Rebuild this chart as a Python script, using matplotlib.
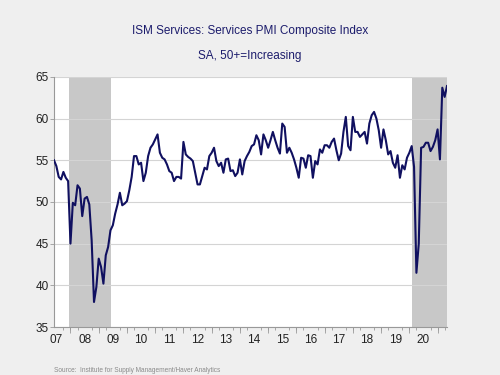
import numpy as np
import matplotlib
matplotlib.use("Agg")
import matplotlib.pyplot as plt

plt.rcParams['font.family'] = ['Liberation Sans', 'DejaVu Sans']

# ISM Services PMI, monthly, Jun 2007 .. May 2021
start_year, start_month = 2007, 6
pmi_2007 = [55.0, 54.3, 53.0, 52.7, 53.6, 52.9, 52.5]
pmi_2008 = [45.0, 49.9, 49.6, 52.0, 51.6, 48.3, 50.4, 50.6, 49.7, 45.4, 38.0, 39.8]
pmi_2009 = [43.2, 42.2, 40.2, 43.6, 44.6, 46.6, 47.2, 48.6, 49.7, 51.1, 49.6, 49.8]
pmi_2010 = [50.1, 51.4, 53.0, 55.5, 55.5, 54.5, 54.7, 52.5, 53.5, 55.5, 56.5, 56.9]
pmi_2011 = [57.5, 58.1, 55.9, 55.3, 55.1, 54.5, 53.7, 53.5, 52.5, 53.0, 53.0, 52.8]
pmi_2012 = [57.2, 55.7, 55.4, 55.2, 54.9, 53.5, 52.1, 52.1, 53.1, 54.1, 53.9, 55.5]
pmi_2013 = [55.9, 56.5, 54.9, 54.3, 54.7, 53.5, 55.1, 55.2, 53.7, 53.8, 53.1, 53.5]
pmi_2014 = [55.1, 53.3, 54.9, 55.5, 56.0, 56.7, 56.9, 58.0, 57.4, 55.7, 58.1, 57.4]
pmi_2015 = [56.5, 57.4, 58.4, 57.4, 56.5, 55.8, 59.4, 59.0, 55.9, 56.5, 55.9, 55.1]
pmi_2016 = [54.1, 52.9, 55.3, 55.2, 54.1, 55.6, 55.5, 52.9, 54.9, 54.5, 56.3, 55.9]
pmi_2017 = [56.8, 56.8, 56.5, 57.2, 57.6, 56.2, 55.0, 55.8, 58.4, 60.2, 56.7, 56.2]
pmi_2018 = [60.2, 58.4, 58.4, 57.8, 58.1, 58.4, 57.0, 59.4, 60.4, 60.8, 60.0, 58.6]
pmi_2019 = [56.5, 58.7, 57.4, 55.7, 56.1, 54.7, 54.1, 55.6, 52.9, 54.4, 53.9, 55.3]
pmi_2020 = [55.9, 56.7, 54.2, 41.5, 45.0, 56.5, 56.6, 57.1, 57.1, 56.1, 56.6, 57.4]
pmi_2021 = [58.7, 55.1, 63.7, 62.6, 63.9]

# recessions as (start, end) in decimal years
recessions = [(2007.96, 2009.42), (2020.08, 2021.34)]

year_labels = ["07", "08", "09", "10", "11", "12", "13", "14",
               "15", "16", "17", "18", "19", "20"]
y_ticks = [35, 40, 45, 50, 55, 60, 65]

values = np.array(pmi_2007 + pmi_2008 + pmi_2009 + pmi_2010 + pmi_2011 +
                  pmi_2012 + pmi_2013 + pmi_2014 + pmi_2015 + pmi_2016 +
                  pmi_2017 + pmi_2018 + pmi_2019 + pmi_2020 + pmi_2021)
t = start_year + (start_month - 1) / 12 + np.arange(len(values)) / 12

navy = "#101060"
fig = plt.figure(figsize=(5, 3.75), dpi=100, facecolor="#efefef")
ax = fig.add_axes([0.108, 0.128, 0.786, 0.667])
ax.set_facecolor("white")

for r0, r1 in recessions:
    ax.axvspan(r0, r1, color="#c8c8c8", lw=0, zorder=0)

ax.plot(t, values, color=navy, lw=1.5, zorder=3)

ax.set_xlim(t[0], t[-1])
ax.set_ylim(35, 65)
ax.set_yticks(y_ticks)
ax.grid(axis="y", color="#d4d4d4", lw=0.8, zorder=1)
ax.set_axisbelow(True)

for s in ["top", "right"]:
    ax.spines[s].set_visible(False)
for s in ["left", "bottom"]:
    ax.spines[s].set_color("#999999")
    ax.spines[s].set_linewidth(0.8)

ax.tick_params(axis="y", length=3, width=0.6, color="#999999",
               labelsize=8.5, pad=1, labelcolor="#222222")

# year labels centred mid-year, no tick marks
first_year = 2007
ax.set_xticks([first_year + i + 0.5 for i in range(len(year_labels))])
ax.set_xticklabels(year_labels)
ax.tick_params(axis="x", length=0, labelsize=8.5, pad=5, labelcolor="#222222")
ax.set_xticks(np.arange(2007.5, 2021.4, 0.25), minor=True)
ax.tick_params(axis="x", which="minor", length=2, width=0.6, color="#999999")

# longer ticks at year boundaries
sec = ax.secondary_xaxis("bottom")
sec.set_xticks(np.arange(2008, 2022))
sec.set_xticklabels([])
sec.tick_params(length=4, width=0.6, color="#999999")
sec.spines["bottom"].set_visible(False)

fig.text(0.5, 0.918, "ISM Services: Services PMI Composite Index",
         ha="center", va="center", fontsize=8.5, color="#1c1c6c")
fig.text(0.5, 0.852, "SA, 50+=Increasing",
         ha="center", va="center", fontsize=8.5, color="#1c1c6c")
fig.text(0.108, 0.012, "Source:  Institute for Supply Management/Haver Analytics",
         ha="left", va="center", fontsize=4.7, color="#8a8a8a")

fig.savefig("out.png", dpi=100, facecolor=fig.get_facecolor())
